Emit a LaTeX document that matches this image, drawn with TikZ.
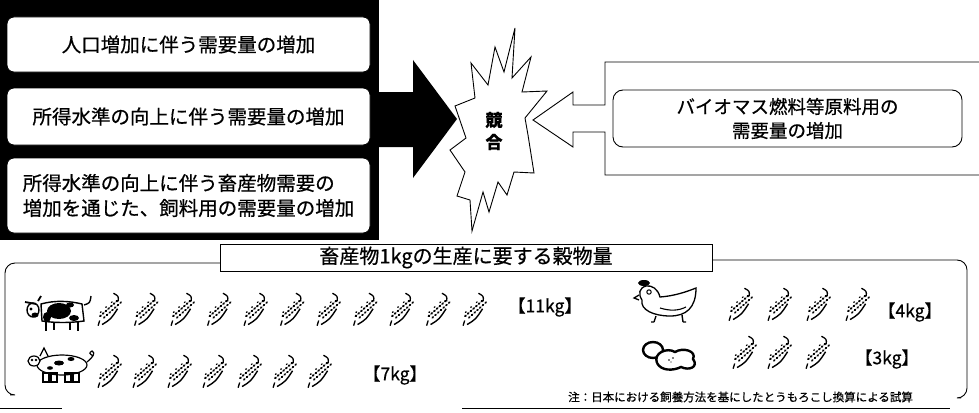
\documentclass[tikz,border=0pt]{standalone}
\usepackage{fontspec}
\setmainfont{Noto Sans CJK JP}[FakeBold=0.6]
\usetikzlibrary{positioning}

\tikzset{
  pane/.style={draw,fill=white,rounded corners=7,line width=0.8,minimum width=363,inner sep=0,
    font=\fontsize{19.5}{25}\selectfont},
  kg/.style={font=\fontsize{17.5}{19}\selectfont,inner sep=0},
  ear/.pic={
    \begin{scope}[rotate=42,scale=0.92]
      \foreach \k in {0,...,6}{
        \fill (-12+4*\k,-2.2) ellipse (1.8 and 1.3);
        \fill (-10+4*\k,1.8) ellipse (1.7 and 1.2);
      }
      \fill (-9,-5) ellipse (1.3 and 0.9) (-1,-5.2) ellipse (1.3 and 0.9) (7,-5) ellipse (1.3 and 0.9);
      \draw[line width=1.4] (-17,6) .. controls (-6,8) .. (7,4.5);
      \draw[line width=1.3] (-16,1) -- (-21,4);
      \draw[line width=1.3] (13,-1) .. controls (17,-5) .. (15,-11);
    \end{scope}
  },
  cow/.pic={
    \draw[line width=1.4] (-19,-9) .. controls (-5,-13) and (10,-12) .. (22,-9) -- (24,8)
      .. controls (10,10) and (-5,10) .. (-18,8) -- cycle;
    \fill (-1,-2) ellipse (12 and 8);
    \fill (14,5) ellipse (5 and 3);
    \fill (-13,4) ellipse (4 and 5);
    \fill (10,-8) ellipse (4 and 2.5);
    \draw[line width=1.4,fill=white] (-27,-3) ellipse (6 and 7);
    \fill (-29,-4) circle (1.6) (-25,2) ellipse (3.5 and 2.5);
    \draw[line width=1.8] (-35,-11) -- (-24,-9) (-22,-12) -- (-19,-17);
    \draw[line width=1.8] (-14,8) -- (-14,18) (-6,9) -- (-6,17) (10,9) -- (10,17) (18,8) -- (18,18);
    \draw[line width=1.4] (24,-8) .. controls (30,-10) .. (31,-17);
  },
  pig/.pic={
    \draw[line width=1.2] (0,0) ellipse (25 and 10);
    \draw[line width=1.2,fill=white] (-28,-4) ellipse (6 and 5);
    \fill (-30,-5) circle (1.3) (-26,-5) circle (1.3);
    \draw[line width=1.2] (-22,-9) -- (-18,-17) -- (-14,-9);
    \fill (-3,-2) ellipse (5 and 2.5) (9,-6) ellipse (3.5 and 2) (-12,3) ellipse (3 and 1.8);
    \foreach \x in {-19,-11,3,11}
      \draw[line width=1.5] (\x,8) rectangle ++(6,9);
    \draw[line width=1.2] (25,-3) .. controls (31,-8) and (34,-12) .. (30,-14) .. controls (27,-12) .. (31,-9);
  },
  hen/.pic={
    \draw[line width=1.3] (-24,-2) .. controls (-26,8) and (-12,14) .. (4,14)
      .. controls (20,14) and (30,6) .. (30,-14) .. controls (20,-10) and (8,-6) .. (-6,-5)
      .. controls (-8,-13) and (-14,-17) .. (-20,-16) .. controls (-27,-14) and (-28,-8) .. (-24,-2);
    \fill (-22,-19) ellipse (6 and 3);
    \draw[line width=1.3] (-27,-7) -- (-32,-4) -- (-27,-2);
    \draw[line width=1] (-17,-10) circle (2.2);
    \draw[line width=1.1] (-6,6) .. controls (4,9) and (12,9) .. (20,5);
    \draw[line width=1.4] (-10,14) -- (-12,20) (-12,20) -- (-15,20) (16,13) -- (17,20) (17,20) -- (20,20);
  },
  egg/.pic={
    \draw[line width=2.4] (-16,-5) ellipse (10 and 8);
    \draw[line width=2.4,fill=white] (-12,8) .. controls (-16,-2) and (-2,-8) .. (6,-3)
      .. controls (14,-8) and (28,-4) .. (24,4) .. controls (30,12) and (20,16) .. (12,12)
      .. controls (4,16) and (-8,16) .. (-12,8);
    \fill (0,5) circle (0.9) (4,3) circle (0.9) (2,7) circle (0.7);
  }
}

\begin{document}
\begin{tikzpicture}[x=1pt,y=-1pt]
\useasboundingbox (0,0) rectangle (979,412);

% demand side
\fill (0,0) rectangle (379,240);
\node (pop) [pane,minimum height=55] at (188.5,44.5) {人口増加に伴う需要量の増加};
\node (income) [pane,minimum height=57] at (188.5,116.5) {所得水準の向上に伴う需要量の増加};
\node (feed) [pane,minimum height=75,align=left] at (188.5,195.5)
  {所得水準の向上に伴う畜産物需要の\\増加を通じた、飼料用の需要量の増加};

\coordinate (push) at (379,92);
\fill (push) -- ++(34,0) -- ++(0,-32) -- ++(44,59) -- ++(-44,59) -- ++(0,-31) -- ++(-34,0) -- cycle;

% burst
\draw[line width=0.9,fill=white] (515,28) -- (512,78) -- (531,57) -- (522,92) -- (547,91) -- (525,118)
  -- (528,135) -- (534,173) -- (514,172) -- (507,195) -- (498,182) -- (489,212) -- (483,192)
  -- (472,231) -- (470,200) -- (457,196) -- (465,172) -- (450,150) -- (466,138) -- (455,106)
  -- (475,98) -- (471,63) -- (488,85) -- (495,47) -- (504,72) -- cycle;
\node (compete) [align=center,inner sep=0,font=\fontsize{17}{22}\selectfont\bfseries] at (494,131) {競\\合};

% biomass side
\draw[line width=0.9] (979,62) -| (605,105) -- ++(-32,0) -- ++(0,-13) -- ++(-40,28) -- ++(40,27)
  -- ++(0,-15) -- ++(32,0) |- (979,175);
\node (biomass) [draw,rounded corners=10,line width=0.9,minimum width=349,minimum height=57,
  align=center,inner sep=0,font=\fontsize{18.5}{24}\selectfont] at (787.5,118.5)
  {バイオマス燃料等原料用の\\需要量の増加};

% grain per 1kg
\node (title) [draw,line width=0.9,minimum width=492,minimum height=27,inner sep=0,
  font=\fontsize{20}{24}\selectfont] at (466,257.5) {畜産物1kgの生産に要する穀物量};
\draw[line width=0.9,rounded corners=10] (220,263) -- (5,263) -- (5,395) -- (10,395);
\draw[line width=0.9,rounded corners=10] (712,260) -- (967,260) -- (967,398) -- (961,398);

\pic at (60,313) {cow};
\foreach \i in {0,...,10} \pic at (110+36.5*\i,310) {ear};
\node (beef) [kg] at (545,307) {【11kg】};

\pic at (62,365) {pig};
\foreach \i in {0,...,6} \pic at (110+35*\i,372) {ear};
\node (pork) [kg] at (395,375) {【7kg】};

\pic at (666,302) {hen};
\foreach \i in {0,...,3} \pic at (741+39*\i,305) {ear};
\node (chicken) [kg] at (910,312) {【4kg】};

\pic at (669,355) {egg};
\foreach \x in {745,780,818} \pic at (\x,353) {ear};
\node (eggs) [kg] at (887,359) {【3kg】};

\node (note) [anchor=west,inner sep=0,font=\fontsize{11.5}{13}\selectfont] at (568,397)
  {注：日本における飼養方法を基にしたとうもろこし換算による試算};
\draw[line width=0.9] (0,408) -- (62,408) (462,408) -- (950,408);
\end{tikzpicture}
\end{document}
